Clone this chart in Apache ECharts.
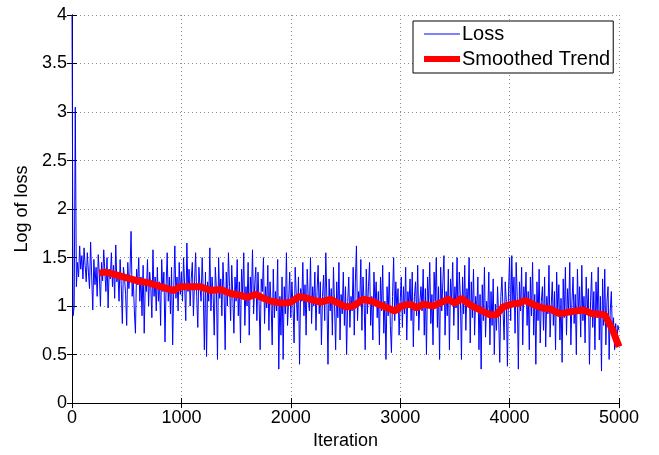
<!DOCTYPE html>
<html>
<head>
<meta charset="utf-8">
<script src="https://cdn.jsdelivr.net/npm/echarts@6/dist/echarts.min.js"></script>
<style>html,body{margin:0;padding:0;background:#fff}#c{width:659px;height:455px}</style>
</head>
<body>
<div id="c"></div>
<script>
// Loss sampled every 10 iterations (0..5000)
const lossStep = 10;
const lossValues = [
4.00,0.90,1.00,3.05,1.20,1.45,1.30,1.62,1.38,1.52,
1.28,1.60,1.42,1.25,1.55,1.35,1.18,1.66,1.30,0.96,
1.48,1.22,1.40,1.10,1.53,1.32,1.00,1.45,1.26,1.58,
1.36,1.15,1.50,0.98,1.38,1.28,1.55,1.20,1.42,1.08,
1.63,1.25,1.35,1.05,1.48,1.22,0.82,1.40,1.30,1.12,
0.80,1.45,1.18,1.35,1.77,1.10,1.28,0.95,0.72,1.38,
1.22,1.50,1.05,1.30,0.90,1.42,0.72,1.25,1.15,1.48,
1.00,1.35,1.20,0.88,1.58,1.10,1.30,0.95,1.40,1.05,
1.25,0.80,1.48,1.15,1.35,0.63,1.20,1.55,1.05,1.30,
0.92,1.40,0.60,1.18,1.62,1.08,1.30,0.95,1.45,1.12,
1.35,1.05,1.50,1.20,0.85,1.65,1.15,1.38,1.00,1.28,
1.45,0.90,1.25,1.55,1.10,0.78,1.40,1.20,1.05,1.50,
1.15,0.55,1.35,0.48,1.25,1.05,1.60,0.95,1.30,1.12,
0.70,1.40,1.18,0.45,1.50,1.08,1.28,0.90,1.45,1.15,
0.55,1.35,1.00,1.55,1.20,0.85,1.42,1.10,0.72,1.30,
1.05,1.48,0.90,1.25,0.62,1.38,1.12,1.55,0.80,1.20,
1.00,1.45,0.70,1.30,1.08,1.58,0.92,1.22,1.40,0.85,
1.35,1.05,0.55,1.28,1.15,1.50,0.82,1.20,0.98,1.42,
0.75,1.25,1.02,0.60,1.38,0.88,1.15,0.95,1.48,0.35,
1.10,0.70,1.30,0.45,1.20,0.92,1.55,0.80,1.05,1.35,
0.88,1.25,1.00,0.62,1.40,1.12,0.85,1.30,0.40,1.18,
1.05,1.45,0.90,1.22,0.70,1.38,1.08,0.95,1.50,0.82,
1.20,1.00,1.35,0.75,1.15,1.42,0.92,1.25,0.60,1.10,
1.32,0.85,1.55,1.05,0.40,1.28,0.95,1.18,0.70,1.40,
1.00,0.55,1.25,0.88,1.45,0.65,1.12,0.92,1.35,0.80,
1.20,0.50,1.05,1.30,0.78,1.10,0.95,1.40,0.70,1.25,
1.62,0.85,1.15,1.00,1.48,0.75,1.30,1.05,0.55,1.38,
0.92,1.20,1.45,0.80,1.10,0.65,1.35,1.00,1.25,0.88,
1.15,0.60,1.30,0.95,1.42,0.72,1.05,0.45,1.20,0.90,
1.35,0.80,0.52,1.10,1.50,0.85,1.25,0.95,1.18,0.70,
1.05,1.30,0.78,1.20,0.92,1.40,0.65,1.15,1.00,1.28,
0.85,1.35,0.58,1.10,1.25,0.90,1.42,0.75,1.05,1.20,
0.95,1.38,0.70,1.18,0.50,1.30,1.02,1.45,0.82,1.12,
0.60,1.35,1.05,1.50,0.78,1.20,0.45,1.40,0.95,1.25,
1.52,0.70,1.15,0.90,1.38,0.55,1.28,1.05,1.45,0.80,
1.20,0.98,1.50,0.65,1.35,1.10,0.45,1.30,0.92,1.42,
0.75,1.18,1.00,1.50,0.62,1.25,0.88,1.38,0.70,1.10,
0.95,1.30,0.55,1.12,0.35,1.22,0.85,1.40,0.68,1.05,
0.90,1.35,0.60,1.15,0.80,1.28,0.50,1.02,0.75,1.20,
0.88,0.42,1.10,1.30,0.95,0.65,1.25,1.05,0.38,1.15,
1.50,0.85,1.52,1.00,1.30,0.72,1.45,1.10,0.35,1.25,
0.95,1.40,0.60,1.20,1.02,1.35,0.80,1.15,0.55,1.30,
0.90,1.45,0.70,1.12,0.40,1.25,0.85,1.38,0.62,1.05,
1.20,0.75,1.30,0.58,1.10,0.92,1.42,0.68,1.00,1.25,
0.80,1.15,0.55,1.35,0.95,1.22,0.65,1.08,0.42,1.28,
0.88,1.40,0.70,1.18,0.95,1.45,0.60,1.05,1.30,0.82,
1.12,0.50,1.38,0.92,1.20,0.68,1.42,0.85,1.10,0.62,
1.30,0.95,1.18,0.40,1.05,1.35,0.78,1.15,0.55,1.25,
0.88,1.40,0.65,1.10,0.33,1.28,0.80,1.38,0.60,1.05,
1.20,0.45,0.95,1.15,0.70,0.88,0.55,0.82,0.62,0.80,
0.75
];
const trendIter = [250,300,380,500,600,700,780,870,930,990,1080,1170,1270,1360,1450,1540,1600,1680,1750,1820,1920,2000,2080,2180,2270,2360,2510,2570,2660,2740,2820,2950,3010,3090,3150,3210,3300,3360,3440,3500,3560,3640,3730,3820,3880,3940,4020,4090,4140,4210,4300,4370,4460,4550,4670,4760,4870,4940,5000];
const trendValues = [1.34,1.35,1.33,1.29,1.26,1.24,1.21,1.18,1.16,1.20,1.20,1.20,1.16,1.17,1.13,1.11,1.09,1.12,1.08,1.05,1.03,1.04,1.10,1.07,1.04,1.07,0.99,1.00,1.07,1.05,1.01,0.95,1.00,1.02,0.98,1.02,1.00,1.03,1.07,1.03,1.08,1.01,0.96,0.91,0.91,0.99,1.02,1.03,1.06,1.02,0.98,0.97,0.92,0.94,0.96,0.92,0.91,0.76,0.58];
const xTicks = [0,1000,2000,3000,4000,5000];
const yTicks = [0,0.5,1,1.5,2,2.5,3,3.5,4];

const lossData = lossValues.map((v,i)=>[i*lossStep, v]);
const trendData = trendIter.map((x,i)=>[x, trendValues[i]]);

const FONT = 'Liberation Sans';
const chart = echarts.init(document.getElementById('c'), null, {renderer:'canvas'});
const axLine = {show:true, lineStyle:{color:'#000', width:1}};
const tick = {show:true, inside:true, length:5, lineStyle:{color:'#000'}};
const grid = {show:true, lineStyle:{color:'#8c8c8c', type:[1,3], width:1}};
chart.setOption({
  animation:false,
  backgroundColor:'#fff',
  grid:{left:72, top:15, right:40, bottom:48, containLabel:false},
  legend:{
    orient:'vertical', left:413, top:21,
    backgroundColor:'#fff', borderColor:'#000', borderWidth:1,
    padding:[3,3,4,8], itemWidth:36, itemHeight:18, itemGap:5,
    itemStyle:{opacity:0},
    textStyle:{fontFamily:FONT, fontSize:20, color:'#000', padding:[0,0,0,-3]},
    data:[
      {name:'Loss', lineStyle:{width:1, color:'#0000ff'}},
      {name:'Smoothed Trend', lineStyle:{width:6, color:'#ff0000'}}
    ]
  },
  xAxis:[{
    type:'value', min:xTicks[0], max:xTicks[xTicks.length-1], interval:1000,
    name:'Iteration', nameLocation:'middle', nameGap:24,
    nameTextStyle:{fontFamily:FONT, fontSize:18, color:'#000'},
    axisLine:axLine, axisTick:tick, splitLine:grid,
    axisLabel:{fontFamily:FONT, fontSize:18, color:'#000', margin:6, formatter:v=>String(v)}
  },{
    type:'value', position:'top', min:0, max:5000, interval:1000,
    axisLine:axLine, axisTick:tick, splitLine:{show:false}, axisLabel:{show:false}
  }],
  yAxis:[{
    type:'value', min:yTicks[0], max:yTicks[yTicks.length-1], interval:0.5,
    name:'Log of loss', nameLocation:'middle', nameGap:33, nameRotate:90,
    nameTextStyle:{fontFamily:FONT, fontSize:18, color:'#000'},
    axisLine:axLine, axisTick:tick, splitLine:grid,
    axisLabel:{fontFamily:FONT, fontSize:18, color:'#000', margin:5, formatter:v=>String(v)}
  },{
    type:'value', position:'right', min:0, max:4, interval:0.5,
    axisLine:axLine, axisTick:tick, splitLine:{show:false}, axisLabel:{show:false}
  }],
  series:[{
    name:'Loss', type:'line', data:lossData, showSymbol:false, symbol:'none',
    lineStyle:{color:'#0000ff', width:1}, itemStyle:{color:'#0000ff'}, z:2
  },{
    name:'Smoothed Trend', type:'line', data:trendData, showSymbol:false, symbol:'none',
    lineStyle:{color:'#ff0000', width:7}, itemStyle:{color:'#ff0000'}, z:3
  }]
});
</script>
</body>
</html>
